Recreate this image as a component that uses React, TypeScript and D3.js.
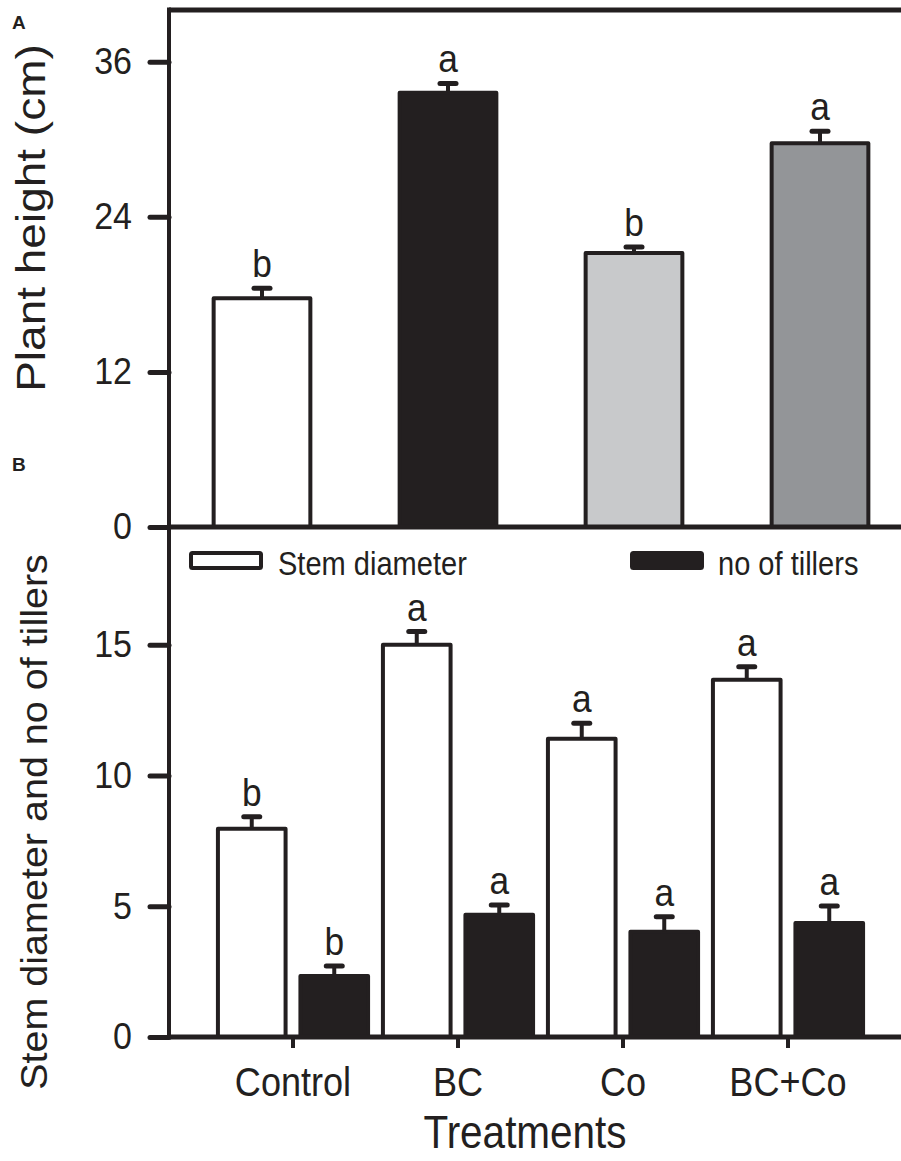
import { useEffect, useRef } from 'react';
import * as d3 from 'd3';

const categories = ['Control', 'BC', 'Co', 'BC+Co'];

// panel A - plant height
const heightMeans = [17.7, 33.6, 21.2, 29.7];
const heightErrors = [0.78, 0.72, 0.46, 0.92];
const heightLetters = ['b', 'a', 'b', 'a'];
const heightFills = ['#ffffff', '#231f20', '#c8c9cb', '#939598'];
const heightTicks = [0, 12, 24, 36];

// panel B - stem diameter and tillers
const stemMeans = [7.96, 15.0, 11.4, 13.66];
const stemErrors = [0.46, 0.5, 0.6, 0.5];
const stemLetters = ['b', 'a', 'a', 'a'];
const tillerMeans = [2.33, 4.67, 4.02, 4.36];
const tillerErrors = [0.38, 0.38, 0.58, 0.65];
const tillerLetters = ['b', 'a', 'a', 'a'];
const seriesNames = ['Stem diameter', 'no of tillers'];
const seriesFills = ['#ffffff', '#231f20'];
const stemTicks = [0, 5, 10, 15];

const W = 901;
const H = 1161;
const INK = '#231f20';
const FONT = '"Liberation Sans", Arial, sans-serif';
// the original figure text looks a bit narrow / tall
const SX = 0.88;

export default function App() {
    const ref = useRef(null);

    useEffect(() => {
        const svg = d3.select(ref.current);
        svg.selectAll('*').remove();

        const left = 169;
        const top = 10;
        const midY = 527;
        const bottom = 1037;

        // scales
        const xA = d3.scaleBand().domain(categories).range([left, left + 4 * 186]).paddingInner(0.48).paddingOuter(0.24);
        const yA = d3.scaleLinear().domain([0, 40]).range([midY, top]);
        const x0 = d3.scaleBand().domain(categories).range([210.5, 870.5]);
        const x1 = d3.scaleBand().domain(seriesNames).range([0, x0.bandwidth()]).paddingInner(0.18).paddingOuter(0.09);
        const yB = d3.scaleLinear().domain([0, 19.5]).range([bottom, midY]);

        // text helper, narrow text
        const label = (x, y, txt, size, opts = {}) => {
            const { anchor = 'middle', rotate = 0, sx = SX, weight = 'normal' } = opts;
            const tr = rotate ? `translate(${x},${y}) scale(${sx},1) rotate(${rotate})` : `translate(${x},${y}) scale(${sx},1)`;
            return svg.append('text')
                .attr('transform', tr)
                .attr('text-anchor', anchor)
                .attr('font-size', size)
                .attr('font-weight', weight)
                .attr('fill', INK)
                .text(txt);
        };

        // error bar + letter
        const errBar = (cx, yTop, yErr, letter) => {
            svg.append('line')
                .attr('x1', cx).attr('x2', cx).attr('y1', yTop).attr('y2', yErr)
                .attr('stroke', INK).attr('stroke-width', 4);
            svg.append('line')
                .attr('x1', cx - 8).attr('x2', cx + 8).attr('y1', yErr).attr('y2', yErr)
                .attr('stroke', INK).attr('stroke-width', 5).attr('stroke-linecap', 'round');
            label(cx, yErr - 11, letter, 38, { sx: 0.93 });
        };

        // Panel A bars
        categories.forEach((c, i) => {
            const x = xA(c);
            svg.append('rect')
                .attr('x', x).attr('y', yA(heightMeans[i]))
                .attr('width', xA.bandwidth()).attr('height', midY - yA(heightMeans[i]))
                .attr('fill', heightFills[i])
                .attr('stroke', INK).attr('stroke-width', 4).attr('stroke-linejoin', 'round');
            errBar(x + xA.bandwidth() / 2, yA(heightMeans[i]), yA(heightMeans[i] + heightErrors[i]), heightLetters[i]);
        });

        // Panel B bars
        const groups = [
            { name: seriesNames[0], means: stemMeans, errs: stemErrors, letters: stemLetters, fill: seriesFills[0] },
            { name: seriesNames[1], means: tillerMeans, errs: tillerErrors, letters: tillerLetters, fill: seriesFills[1] }
        ];
        categories.forEach((c, i) => {
            groups.forEach((g) => {
                const x = x0(c) + x1(g.name);
                svg.append('rect')
                    .attr('x', x).attr('y', yB(g.means[i]))
                    .attr('width', x1.bandwidth()).attr('height', bottom - yB(g.means[i]))
                    .attr('fill', g.fill)
                    .attr('stroke', INK).attr('stroke-width', 4).attr('stroke-linejoin', 'round');
                errBar(x + x1.bandwidth() / 2, yB(g.means[i]), yB(g.means[i] + g.errs[i]), g.letters[i]);
            });
        });

        // frame lines
        svg.append('line').attr('x1', left).attr('x2', W).attr('y1', top).attr('y2', top)
            .attr('stroke', INK).attr('stroke-width', 5);
        svg.append('line').attr('x1', left).attr('x2', left).attr('y1', top - 2.5).attr('y2', bottom + 2)
            .attr('stroke', INK).attr('stroke-width', 4);
        svg.append('line').attr('x1', left).attr('x2', W).attr('y1', midY).attr('y2', midY)
            .attr('stroke', INK).attr('stroke-width', 5);
        svg.append('line').attr('x1', left).attr('x2', W).attr('y1', bottom).attr('y2', bottom)
            .attr('stroke', INK).attr('stroke-width', 5);

        // y axes
        const tickSX = 0.92;
        [
            d3.axisLeft(yA).tickValues(heightTicks).tickSize(19).tickPadding(18),
            d3.axisLeft(yB).tickValues(stemTicks).tickSize(19).tickPadding(18)
        ].forEach((ax) => {
            svg.append('g')
                .attr('transform', `translate(${left},0)`)
                .call(ax)
                .call((g) => g.select('.domain').remove())
                .call((g) => g.selectAll('.tick line').attr('stroke', INK).attr('stroke-width', 5).attr('stroke-linecap', 'round'))
                .call((g) =>
                    g.selectAll('.tick text')
                        .attr('font-size', 37)
                        .attr('font-family', FONT)
                        .attr('fill', INK)
                        .attr('x', -37 / tickSX)
                        .attr('transform', `scale(${tickSX},1)`)
                );
        });

        // x axis
        svg.append('g')
            .attr('transform', `translate(0,${bottom})`)
            .call(d3.axisBottom(x0).tickSize(11).tickPadding(19))
            .call((g) => g.select('.domain').remove())
            .call((g) => g.selectAll('.tick line').attr('stroke', INK).attr('stroke-width', 4))
            .call((g) =>
                g.selectAll('.tick text')
                    .attr('font-size', 41)
                    .attr('font-family', FONT)
                    .attr('fill', INK)
                    .attr('transform', `scale(${SX},1)`)
            );

        // axis titles
        label(45, 218, 'Plant height (cm)', 46, { rotate: -90, sx: 0.9 });
        label(47, 822, 'Stem diameter and no of tillers', 39.5, { rotate: -90, sx: 0.95 });
        label(525, 1148, 'Treatments', 46);

        // panel labels
        label(12, 29, 'A', 19, { anchor: 'start', weight: 'bold', sx: 1 });
        label(12, 471, 'B', 19, { anchor: 'start', weight: 'bold', sx: 1 });

        // legend
        const legendX = [191, 632];
        const legendTextX = [278, 718];
        groups.forEach((g, i) => {
            svg.append('rect')
                .attr('x', legendX[i]).attr('y', 553)
                .attr('width', 70).attr('height', 15)
                .attr('fill', g.fill)
                .attr('stroke', INK).attr('stroke-width', 4).attr('rx', 1.5);
            label(legendTextX[i], 575, g.name, 33, { anchor: 'start' });
        });
    }, []);

    return (
        <svg
            ref={ref}
            width={W}
            height={H}
            style={{ display: 'block', position: 'absolute', left: 0, top: 0, background: '#fff', fontFamily: FONT }}
        />
    );
}
